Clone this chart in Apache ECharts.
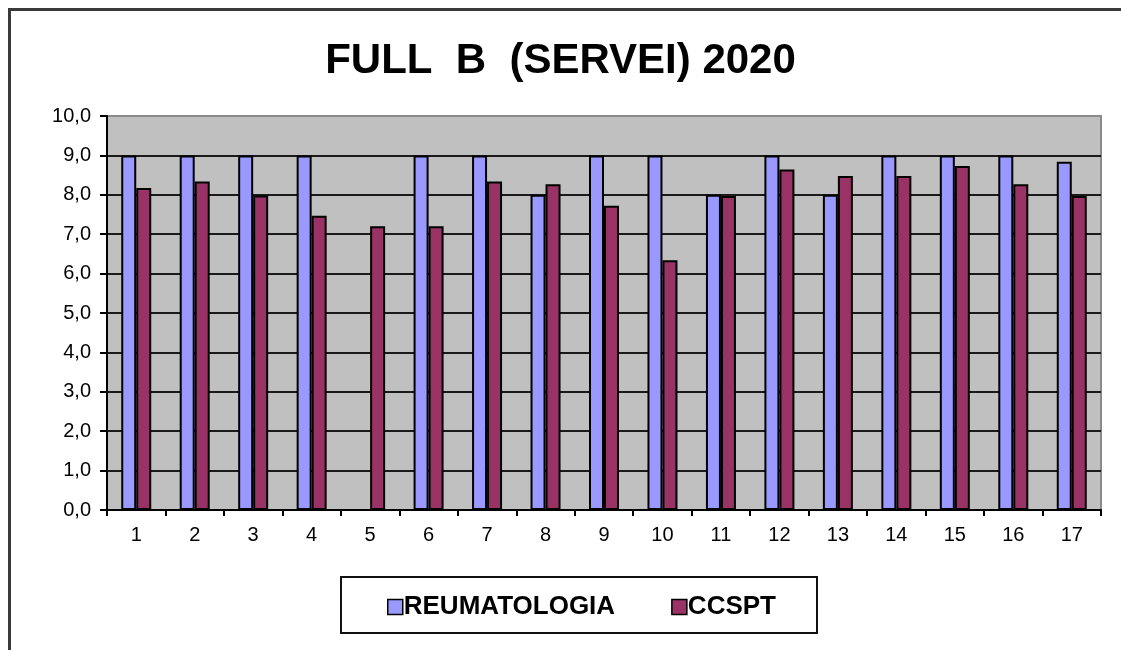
<!DOCTYPE html>
<html>
<head>
<meta charset="utf-8">
<script src="https://cdn.jsdelivr.net/npm/echarts@6/dist/echarts.min.js"></script>
<style>
  html, body { margin: 0; padding: 0; background: #ffffff; }
  #chart { width: 1121px; height: 650px; }
</style>
</head>
<body>
<div id="chart"></div>
<script>
// Monthly scores per service, scale 0-10
const categories = ['1','2','3','4','5','6','7','8','9','10','11','12','13','14','15','16','17'];
const reumatologia = [9, 9, 9, 9, null, 9, 9, 8, 9, 9, 8, 9, 8, 9, 9, 9, 8.84];
const ccspt = [8.17, 8.34, 7.98, 7.47, 7.2, 7.2, 8.34, 8.27, 7.72, 6.34, 7.97, 8.64, 8.48, 8.48, 8.73, 8.27, 7.97];
const seriesNames = ['REUMATOLOGIA', 'CCSPT'];
const titleText = 'FULL  B  (SERVEI) 2020';

const FONT = 'Arial, "Liberation Sans", sans-serif';

const chart = echarts.init(document.getElementById('chart'), null, { renderer: 'canvas' });

chart.setOption({
  backgroundColor: '#ffffff',
  animation: false,
  title: {
    text: titleText,
    left: 'center',
    top: 35,
    textStyle: { fontFamily: FONT, fontSize: 42, fontWeight: 'bold', color: '#000' }
  },
  graphic: [
    // outer chart frame
    { type: 'rect', shape: { x: 9.5, y: 9.5, width: 1300, height: 800 },
      style: { fill: null, stroke: '#3a3a3a', lineWidth: 3 }, z: 100 },
    // legend box
    { type: 'rect', shape: { x: 341, y: 577, width: 476, height: 56 },
      style: { fill: '#fff', stroke: '#111', lineWidth: 2 }, z: 1 }
  ],
  legend: {
    left: 382,
    top: 589,
    itemWidth: 15,
    itemHeight: 15,
    itemGap: 56,
    icon: 'rect',
    z: 5,
    textStyle: { fontFamily: FONT, fontSize: 26, fontWeight: 'bold', color: '#000', padding: [0, 0, 0, -4] },
    itemStyle: { borderColor: '#000', borderWidth: 1.5 },
    data: seriesNames
  },
  grid: {
    left: 107, right: 20, top: 116, bottom: 140,
    show: true,
    backgroundColor: '#C0C0C0',
    borderColor: '#8a8a8a',
    borderWidth: 2
  },
  xAxis: {
    type: 'category',
    data: categories,
    axisLine: { show: true, lineStyle: { color: '#000', width: 2 } },
    axisTick: { show: true, length: 6, lineStyle: { color: '#000', width: 2 } },
    axisLabel: { fontFamily: FONT, fontSize: 20, color: '#000', margin: 15 }
  },
  yAxis: {
    type: 'value',
    min: 0, max: 10, interval: 1,
    axisLine: { show: true, lineStyle: { color: '#000', width: 2 } },
    axisTick: { show: true, length: 7, inside: false, lineStyle: { color: '#000', width: 2 } },
    axisLabel: {
      fontFamily: FONT, fontSize: 20, color: '#000', margin: 16,
      formatter: v => v.toFixed(1).replace('.', ',')
    },
    splitLine: { show: true, showMaxLine: false, lineStyle: { color: '#1a1a1a', width: 2 } }
  },
  series: [
    {
      name: seriesNames[0], type: 'bar', data: reumatologia,
      barWidth: 15, barGap: '0%',
      itemStyle: { color: '#9999FF', borderColor: '#000', borderWidth: 2 }
    },
    {
      name: seriesNames[1], type: 'bar', data: ccspt,
      barWidth: 15, barGap: '0%',
      itemStyle: { color: '#993366', borderColor: '#000', borderWidth: 2 }
    }
  ]
});
</script>
</body>
</html>
